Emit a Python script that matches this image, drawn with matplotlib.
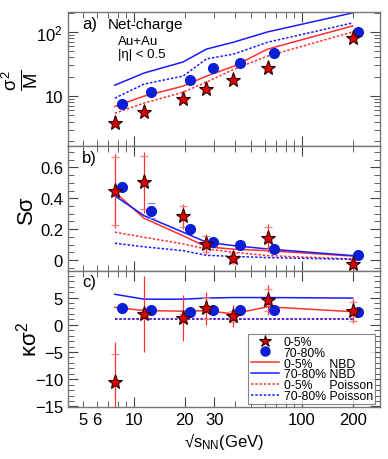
import matplotlib
matplotlib.use("Agg")
import matplotlib.pyplot as plt
from matplotlib.lines import Line2D
from matplotlib.ticker import FixedLocator, NullFormatter, LogLocator, FixedFormatter

plt.rcParams['font.family'] = ['Liberation Sans', 'DejaVu Sans']
plt.rcParams['mathtext.fontset'] = 'custom'
plt.rcParams['mathtext.rm'] = 'Liberation Sans'
plt.rcParams['mathtext.it'] = 'Liberation Sans'

# beam energies
e_cent = [7.7, 11.5, 19.6, 27, 39, 62.4, 200]
e_peri = [8.5, 12.6, 21.5, 29.7, 43, 68, 215]

# a) sigma^2 / M
a_cent = [3.8, 5.7, 9.0, 12.9, 17.8, 27.4, 80]
a_peri = [7.5, 11.8, 17.8, 27, 32.5, 47, 99]
a_nbd_cent = [6.9, 10, 14.3, 20.5, 29, 54, 124]
a_nbd_peri = [14.8, 22.9, 34, 54, 69, 100, 198]
a_poi_cent = [5.4, 7.8, 11.5, 16.5, 26, 42, 100]
a_poi_peri = [9.3, 15.4, 20.5, 38, 45, 69, 138]

# b) S sigma
b_cent = [0.445, 0.503, 0.283, 0.104, 0.013, 0.142, -0.026]
b_cent_stat = [0.24, 0.2, 0.08, 0.065, 0.04, 0.09, 0.03]
b_cent_sys = [0.22, 0.17, 0.07, 0.05, 0.03, 0.07, 0.025]
b_peri = [0.47, 0.32, 0.2, 0.118, 0.1, 0.071, 0.035]
b_peri_sys = [0.01, 0.05, 0.01, 0.01, 0.02, 0.01, 0.005]
b_nbd_cent = [0.44, 0.27, 0.157, 0.085, 0.07, 0.06, 0.025]
b_nbd_peri = [0.416, 0.287, 0.18, 0.115, 0.093, 0.071, 0.028]
b_poi_cent = [0.18, 0.147, 0.104, 0.071, 0.05, 0.028, 0.006]
b_poi_peri = [0.108, 0.085, 0.06, 0.03, 0.023, 0.015, 0.004]

# c) kappa sigma^2
c_cent = [-10.5, 1.97, 1.23, 3.0, 1.55, 4.55, 2.46]
c_cent_stat = [7.4, 7.0, 4.2, 3.0, 2.0, 2.7, 2.2]
c_cent_sys = [5.1, 1.0, 0.8, 2.0, 1.0, 2.0, 1.8]
c_peri = [3.0, 2.7, 2.4, 2.7, 2.7, 2.7, 2.3]
c_nbd_cent = [3.2, 2.6, 2.5, 2.6, 2.0, 3.3, 2.4]
c_nbd_peri = [5.6, 4.7, 4.7, 4.9, 5.0, 5.0, 4.9]
c_poi_cent = [1.0, 1.0, 1.0, 1.0, 1.0, 1.0, 1.0]
c_poi_peri = [1.0, 1.0, 1.0, 1.0, 1.0, 1.0, 1.0]

RED = '#ff3030'
BLUE = '#1a1aff'
MARKER_RED = '#e00000'
MARKER_BLUE = '#0a1ed6'
DOT = (0, (1.6, 1.2))

fig = plt.figure(figsize=(3.88, 4.6), dpi=100)
ax_a = fig.add_axes([0.175, 0.680, 0.804, 0.292])
ax_b = fig.add_axes([0.175, 0.409, 0.804, 0.271])
ax_c = fig.add_axes([0.175, 0.113, 0.804, 0.296])


def draw_lines(ax, nc, npp, pc, pp):
    ax.plot(e_cent, nc, color=RED, lw=1.1)
    ax.plot(e_cent, npp, color=BLUE, lw=1.1)
    ax.plot(e_cent, pc, color=RED, lw=1.1, ls=DOT)
    ax.plot(e_cent, pp, color=BLUE, lw=1.1, ls=DOT)


def draw_points(ax, yc, yp):
    ax.plot(e_peri, yp, 'o', color=MARKER_BLUE, ms=7, zorder=5)
    ax.plot(e_cent, yc, '*', color=MARKER_RED, mec='#300000', mew=0.8,
            ms=11, zorder=6)


def style(ax, lx):
    ax.set_xscale('log')
    ax.set_xlim(4.05, 290)
    ax.tick_params(which='both', direction='in', top=True, right=True,
                   color='#444444')
    ax.tick_params(which='major', length=7, labelsize=12)
    ax.tick_params(which='minor', length=4)
    ax.xaxis.set_major_locator(FixedLocator([10, 100]))
    ax.xaxis.set_minor_locator(LogLocator(base=10, subs=range(2, 10)))
    ax.xaxis.set_major_formatter(NullFormatter())
    ax.xaxis.set_minor_formatter(NullFormatter())
    ax.yaxis.set_label_coords(lx, 0.5)
    for s in ax.spines.values():
        s.set_color('#777777')
        s.set_linewidth(1.0)


# panel a
draw_lines(ax_a, a_nbd_cent, a_nbd_peri, a_poi_cent, a_poi_peri)
draw_points(ax_a, a_cent, a_peri)
style(ax_a, -0.09)
ax_a.set_yscale('log')
ax_a.set_ylim(1.66, 205)
ax_a.set_yticks([10, 100])
ax_a.set_yticklabels(['10', r'10$^2$'])
ax_a.yaxis.set_minor_formatter(NullFormatter())
ax_a.set_ylabel(r'$\frac{\sigma^2}{M}$', fontsize=19)
ax_a.text(0.045, 0.91, 'a)', transform=ax_a.transAxes, fontsize=12, va='center')
ax_a.text(0.128, 0.91, 'Net-charge', transform=ax_a.transAxes, fontsize=11, va='center')
ax_a.text(0.16, 0.785, 'Au+Au', transform=ax_a.transAxes, fontsize=9.5, va='center')
ax_a.text(0.16, 0.69, '|η| < 0.5', transform=ax_a.transAxes, fontsize=9.5, va='center')

# panel b
draw_lines(ax_b, b_nbd_cent, b_nbd_peri, b_poi_cent, b_poi_peri)
ax_b.errorbar(e_cent, b_cent, yerr=b_cent_stat, fmt='none', ecolor=RED, elinewidth=0.9)
ax_b.errorbar(e_cent, b_cent, yerr=b_cent_sys, fmt='none', ecolor='#ff8080',
              elinewidth=0, capsize=3, capthick=0.9)
ax_b.errorbar(e_peri, b_peri, yerr=b_peri_sys, fmt='none', ecolor='#8080ff',
              elinewidth=0, capsize=3, capthick=0.9)
draw_points(ax_b, b_cent, b_peri)
style(ax_b, -0.1)
ax_b.set_ylim(-0.071, 0.738)
ax_b.set_yticks([0, 0.2, 0.4, 0.6])
ax_b.set_yticklabels(['0', '0.2', '0.4', '0.6'])
ax_b.yaxis.set_minor_locator(FixedLocator([i * 0.05 for i in range(-1, 15)]))
ax_b.set_ylabel('Sσ', fontsize=16)
ax_b.text(0.045, 0.91, 'b)', transform=ax_b.transAxes, fontsize=12, va='center')

# panel c
draw_lines(ax_c, c_nbd_cent, c_nbd_peri, c_poi_cent, c_poi_peri)
ax_c.errorbar(e_cent, c_cent, yerr=c_cent_stat, fmt='none', ecolor=RED, elinewidth=0.9)
ax_c.errorbar(e_cent, c_cent, yerr=c_cent_sys, fmt='none', ecolor='#ff8080',
              elinewidth=0, capsize=3, capthick=0.9)
draw_points(ax_c, c_cent, c_peri)
style(ax_c, -0.085)
ax_c.set_ylim(-15.1, 9.9)
ax_c.set_yticks([-15, -10, -5, 0, 5])
ax_c.yaxis.set_minor_locator(FixedLocator(range(-15, 10)))
ax_c.set_ylabel(r'κσ$^2$', fontsize=16)
ax_c.text(0.045, 0.92, 'c)', transform=ax_c.transAxes, fontsize=12, va='center')

ax_c.xaxis.set_major_locator(FixedLocator([10, 20, 30, 100, 200]))
ax_c.xaxis.set_major_formatter(FixedFormatter(['10', '20', '30', '100', '200']))
ax_c.xaxis.set_minor_locator(FixedLocator([5, 6, 7, 8, 9, 40, 50, 60, 70, 80, 90]))
ax_c.xaxis.set_minor_formatter(FixedFormatter(['5', '6', '', '', '', '', '', '', '', '', '']))
ax_c.tick_params(which='minor', labelsize=12, pad=3.5)
ax_c.set_xlabel(r'√s$_{\rm NN}$(GeV)', fontsize=12, labelpad=2)

handles = [
    Line2D([], [], ls='none', marker='*', color=MARKER_RED, mec='#300000', mew=0.8, ms=9),
    Line2D([], [], ls='none', marker='o', color=MARKER_BLUE, ms=6.5),
    Line2D([], [], color=RED, lw=1.1),
    Line2D([], [], color=BLUE, lw=1.1),
    Line2D([], [], color=RED, lw=1.1, ls=DOT),
    Line2D([], [], color=BLUE, lw=1.1, ls=DOT),
]
labels = ['0-5%', '70-80%', '0-5%     NBD', '70-80% NBD',
          '0-5%     Poisson', '70-80% Poisson']
leg = ax_c.legend(handles, labels, loc='lower right', fontsize=8.8,
                  frameon=True, fancybox=False, edgecolor='#666666',
                  handlelength=2.3, handletextpad=0.4, labelspacing=-0.1,
                  borderpad=0.2, borderaxespad=0, bbox_to_anchor=(0.985, 0.02))
leg.get_frame().set_linewidth(0.8)

fig.savefig('out.png', dpi=100)
